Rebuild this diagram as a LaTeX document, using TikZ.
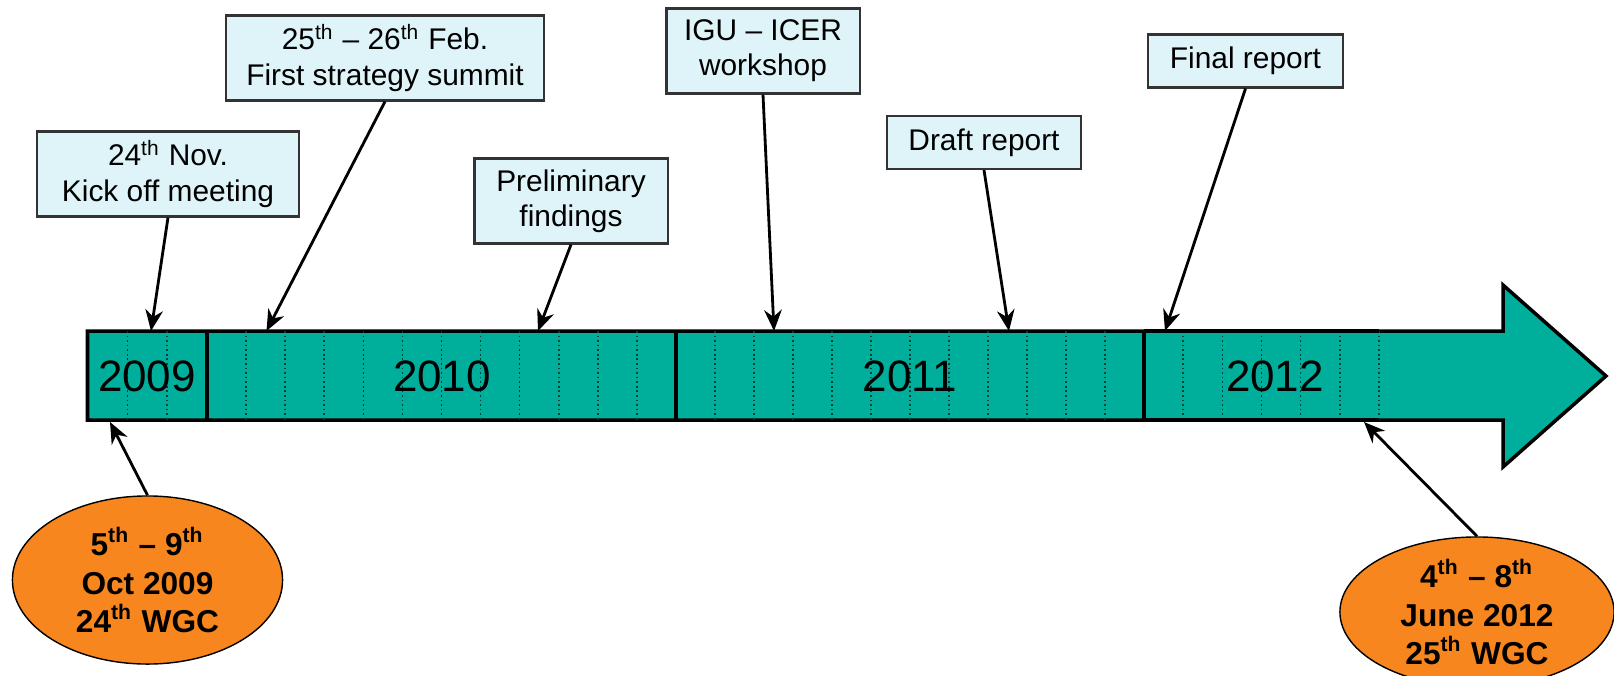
\documentclass[tikz,border=0pt]{standalone}
\usepackage{fontspec}
\setmainfont{Liberation Sans}
\usepackage{xcolor}
\usetikzlibrary{arrows.meta,shapes.geometric}

\definecolor{barteal}{RGB}{0,174,156}
\definecolor{boxcyan}{RGB}{222,244,249}
\definecolor{wgcorange}{RGB}{247,134,30}

\begin{document}
\begin{tikzpicture}[x=0.01cm, y=-0.01cm,
    eventbox/.style={draw=black!80, fill=boxcyan, semithick, rectangle, minimum height=0.85cm, font=\fontsize{8.5}{10}\selectfont, align=center, inner sep=1pt},
    wgc/.style={draw, fill=wgcorange, ellipse, minimum width=2.70cm, minimum height=1.68cm, font=\fontsize{9}{11}\selectfont\bfseries, align=center, inner sep=0pt},
    pointer/.style={-{Stealth[length=6pt,width=5pt]}, line width=0.8pt},
    yearlbl/.style={font=\fontsize{12.5}{14}\selectfont},
    month/.style={dash pattern=on 0.5pt off 0.8pt, draw=barteal!35!black, line width=0.45pt}
]
    \useasboundingbox (0,0) rectangle (1614,675);

    % timeline arrow
    \draw[fill=barteal, line width=1pt] (87.5,331) -- (1503,331) -- (1503,285) -- (1606,376)
        -- (1503,467) -- (1503,420) -- (87.5,420) -- cycle;

    % months
    \foreach \i in {1,2} \draw[month] ({87.5+39.8*\i},331) -- ++(0,89);
    \foreach \i in {1,...,11} \draw[month] ({207+39.08*\i},331) -- ++(0,89);
    \foreach \i in {1,...,11} \draw[month] ({676+39*\i},331) -- ++(0,89);
    \foreach \i in {1,...,6} \draw[month] ({1144+39.17*\i},331) -- ++(0,89);

    % years
    \foreach \x in {207,676,1144} \draw[line width=1pt] (\x,331) -- (\x,420);
    \draw[line width=1.2pt] (1144,331) -- (1379,331);
    \draw[line width=1.2pt] (1144,420) -- (1379,420);
    \node[yearlbl] (y2009) at (147,376) {2009};
    \node[yearlbl] (y2010) at (442,376) {2010};
    \node[yearlbl] (y2011) at (910,376) {2011};
    \node[yearlbl] (y2012) at (1275,376) {2012};

    % events
    \node[eventbox, minimum width=2.61cm] (kickoff) at (168,174) {24\textsuperscript{th} Nov.\\Kick off meeting};
    \node[eventbox, minimum width=3.17cm] (summit) at (385,58) {25\textsuperscript{th} -- 26\textsuperscript{th} Feb.\\First strategy summit};
    \node[eventbox, minimum width=1.93cm] (prelim) at (571,201) {Preliminary\\findings};
    \node[eventbox, minimum width=1.93cm] (igu) at (763,51) {IGU -- ICER\\workshop};
    \node[eventbox, minimum width=1.94cm, minimum height=0.53cm] (draft) at (984,142.5) {Draft report};
    \node[eventbox, minimum width=1.95cm, minimum height=0.53cm] (final) at (1245.5,61) {Final report};

    \coordinate (t1) at (151,331);
    \coordinate (t2) at (266.5,331);
    \coordinate (t3) at (538,331);
    \coordinate (t4) at (774,331);
    \coordinate (t5) at (1009,331);
    \coordinate (t6) at (1165,331);
    \draw[pointer] (kickoff.south) -- (t1);
    \draw[pointer] (summit.south) -- (t2);
    \draw[pointer] (prelim.south) -- (t3);
    \draw[pointer] (igu.south) -- (t4);
    \draw[pointer] (draft.south) -- (t5);
    \draw[pointer] (final.south) -- (t6);

    % congresses
    \node[wgc] (wgc24) at (147.5,580) {5\textsuperscript{th} -- 9\textsuperscript{th}\\Oct 2009\\24\textsuperscript{th} WGC};
    \node[wgc, minimum width=2.74cm, minimum height=1.50cm, inner ysep=-3pt] (wgc25) at (1477,612) {4\textsuperscript{th} -- 8\textsuperscript{th}\\June 2012\\25\textsuperscript{th} WGC};

    \coordinate (b1) at (110,422);
    \coordinate (b2) at (1364,422);
    \draw[pointer] (wgc24.north) -- (b1);
    \draw[pointer] (wgc25.north) -- (b2);
\end{tikzpicture}
\end{document}
